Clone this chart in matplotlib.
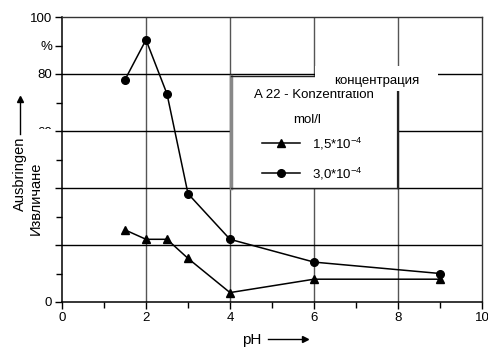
import matplotlib
matplotlib.use("Agg")
import matplotlib.pyplot as plt
from matplotlib.patches import Rectangle
from matplotlib.lines import Line2D

plt.rcParams['font.family'] = ['Liberation Sans', 'DejaVu Sans']
plt.rcParams['mathtext.fontset'] = 'custom'
plt.rcParams['mathtext.rm'] = 'Liberation Sans'
plt.rcParams['mathtext.default'] = 'regular'

# pH values and extraction yield (%) for two A 22 concentrations
ph = [1.5, 2, 2.5, 3, 4, 6, 9]
yield_low = [25.3, 22, 22, 15.3, 3.3, 8, 8]        # 1,5*10^-4 mol/l
yield_high = [78, 92, 73, 38, 22, 14, 10]          # 3,0*10^-4 mol/l
label_low = "1,5*10$^{-4}$"
label_high = "3,0*10$^{-4}$"

W, H = 488, 347


def fig_rect(px0, py0, px1, py1):
    """Pixel box (top-left origin) to a figure-fraction [l, b, w, h]."""
    return [px0 / W, (H - py1) / H, (px1 - px0) / W, (py1 - py0) / H]


def fig_pt(px, py):
    return px / W, (H - py) / H


fig = plt.figure(figsize=(W / 100, H / 100), dpi=100)
ax = fig.add_axes(fig_rect(62, 17, 482, 302))
ax.set_zorder(1)

ax.set_xlim(0, 10)
ax.set_ylim(0, 100)

for x in [2, 4, 6, 8]:
    ax.axvline(x, color='#555555', lw=1.0, zorder=1)
for y in [20, 40, 60, 80]:
    ax.axhline(y, color='black', lw=1.0, zorder=1)

ax.plot(ph, yield_low, color='black', lw=1.1, marker='^', ms=6, zorder=4)
ax.plot(ph, yield_high, color='black', lw=1.1, marker='o', ms=5.5, zorder=4)

ax.set_xticks([0, 2, 4, 6, 8, 10])
ax.set_xticks([1, 3, 5, 7, 9], minor=True)
ax.set_yticks([0, 20, 40, 60, 80, 90, 100])
ax.set_yticklabels(['0', '', '', '60', '80', '%', '100'])
ax.set_yticks([10, 30, 50, 70], minor=True)
ax.tick_params(which='both', direction='out', labelsize=9.5, width=1, colors='black')
ax.tick_params(which='major', length=5, pad=2)
ax.tick_params(which='minor', length=4)
for s in ['left', 'bottom']:
    ax.spines[s].set_linewidth(1.1)
for s in ['top', 'right']:
    ax.spines[s].set_linewidth(1.0)
    ax.spines[s].set_color('#333333')

# legend panel as its own white axes on top of the grid
LX0, LY0, LX1, LY1 = 231, 76, 398, 188
lg = fig.add_axes(fig_rect(LX0, LY0, LX1, LY1))
lg.set_zorder(2)
lg.set_facecolor('white')
lg.set_xlim(LX0, LX1)
lg.set_ylim(LY1, LY0)          # pixel-like units, y downward
lg.set_xticks([])
lg.set_yticks([])
for s in lg.spines.values():
    s.set_color('#222222')
    s.set_linewidth(1.0)
lg.spines['left'].set_color('#888888')
lg.spines['left'].set_linewidth(2.5)
lg.spines['right'].set_linewidth(1.6)

lg.text(314, 98, "A 22 - Konzentration", ha='center', va='baseline', fontsize=9.5)
lg.text(307, 123, "mol/l", ha='center', va='baseline', fontsize=9.5)
entries = [(143, '^', 6, label_low, 148), (173, 'o', 5.5, label_high, 178)]
for ly, mk, ms, lab, base in entries:
    lg.plot([262, 300], [ly, ly], color='black', lw=1.1)
    lg.plot([281], [ly], color='black', marker=mk, ms=ms)
    lg.text(312, base, lab, ha='left', va='baseline', fontsize=9.5)

# panel heading on a white strip across the top edge
fig.patches.append(Rectangle(fig_rect(315, 66, 438, 91)[:2], 123 / W, 25 / H,
                             transform=fig.transFigure, facecolor='white',
                             edgecolor='none', zorder=10))
fig.text(*fig_pt(377, 84), "концентрация", ha='center', va='baseline', fontsize=9.5,
         zorder=11)

# y-axis label on a white strip over the tick label column
fig.patches.append(Rectangle(fig_rect(0, 129, 55, 262)[:2], 55 / W, 133 / H,
                             transform=fig.transFigure, facecolor='white',
                             edgecolor='none', zorder=10))
fig.text(*fig_pt(20, 211), "Ausbringen", rotation=90, ha='center', va='bottom',
         fontsize=10.5, zorder=11)
fig.add_artist(Line2D([20 / W, 20 / W], [fig_pt(0, 134)[1], fig_pt(0, 100)[1]],
                      transform=fig.transFigure, color='black', lw=1.0, zorder=11))
fig.add_artist(Line2D([20 / W], [fig_pt(0, 99)[1]], transform=fig.transFigure,
                      color='black', marker='^', ms=5, zorder=11))
fig.text(*fig_pt(36, 198), "Извличане", rotation=90, ha='center', va='center',
         fontsize=10.5, zorder=11)

# x-axis label with arrow
fig.text(*fig_pt(252, 340), "pH", ha='center', va='center', fontsize=11)
fig.add_artist(Line2D([268 / W, 303 / W], [fig_pt(0, 339)[1]] * 2,
                      transform=fig.transFigure, color='black', lw=1.0))
fig.add_artist(Line2D([305 / W], [fig_pt(0, 339)[1]], transform=fig.transFigure,
                      color='black', marker='>', ms=5))

fig.savefig("out.png", dpi=100)
